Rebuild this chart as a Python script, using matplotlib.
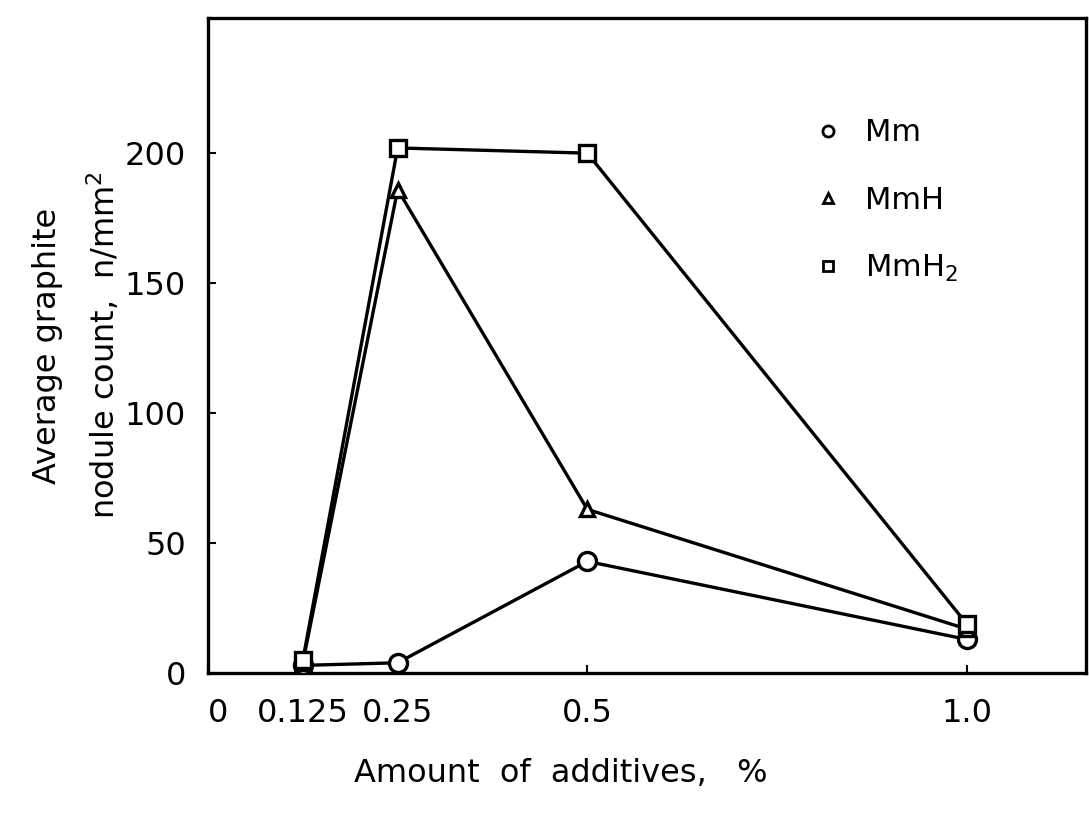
import matplotlib
matplotlib.use("Agg")
import matplotlib.pyplot as plt
import matplotlib.transforms as mtransforms
from matplotlib.lines import Line2D

# values
additive = [0.125, 0.25, 0.5, 1.0]
mm = [3, 4, 43, 13]
mmh = [4, 186, 63, 17]
mmh2 = [5, 202, 200, 19]

x_ticks = [0, 0.125, 0.25, 0.5, 1.0]
x_labels = ["0", "0.125", "0.25", "0.5", "1.0"]
y_ticks = [0, 50, 100, 150, 200]

plt.rcParams['font.family'] = ['DejaVu Sans']

fig = plt.figure(figsize=(10.89, 8.15), dpi=100)
ax = fig.add_axes([0.191, 0.174, 0.806, 0.804])

line_kw = dict(color='black', lw=2.4, mfc='white', mec='black', mew=2.4, zorder=3)
ax.plot(additive, mm, marker='o', ms=13, **line_kw)
ax.plot(additive, mmh, marker='^', ms=10, **line_kw)
ax.plot(additive, mmh2, marker='s', ms=11, **line_kw)

ax.set_xlim(0, 1.157)
ax.set_ylim(0, 252)
ax.set_xticks(x_ticks)
ax.set_xticklabels(x_labels)
ax.set_yticks(y_ticks)
ax.tick_params(direction='in', length=6, width=1.5, labelsize=23)
ax.tick_params(axis='x', pad=18)
ax.tick_params(axis='y', pad=16)
for sp in ax.spines.values():
    sp.set_linewidth(2.4)

# the "0" label sits a bit to the right of the spine
lbl0 = ax.get_xticklabels()[0]
lbl0.set_transform(lbl0.get_transform() +
                   mtransforms.ScaledTranslation(10 / 100, 0, fig.dpi_scale_trans))

ax.set_ylabel("Average graphite\nnodule count,  n/mm$^2$", fontsize=23,
              labelpad=2, linespacing=1.75)
fig.text(0.515, 0.04, "Amount  of  additives,   %", fontsize=23, ha='center')

handles = [
    Line2D([], [], ls='none', marker='o', ms=8, mfc='white', mec='black', mew=2),
    Line2D([], [], ls='none', marker='^', ms=7, mfc='white', mec='black', mew=2),
    Line2D([], [], ls='none', marker='s', ms=7, mfc='white', mec='black', mew=2),
]
ax.legend(handles, ["Mm", "MmH", "MmH$_2$"], loc='upper left',
          bbox_to_anchor=(0.672, 0.87), frameon=False, fontsize=22,
          handlelength=1.0, handletextpad=0.7, labelspacing=1.25, borderpad=0)

fig.savefig("out.png", dpi=100)
